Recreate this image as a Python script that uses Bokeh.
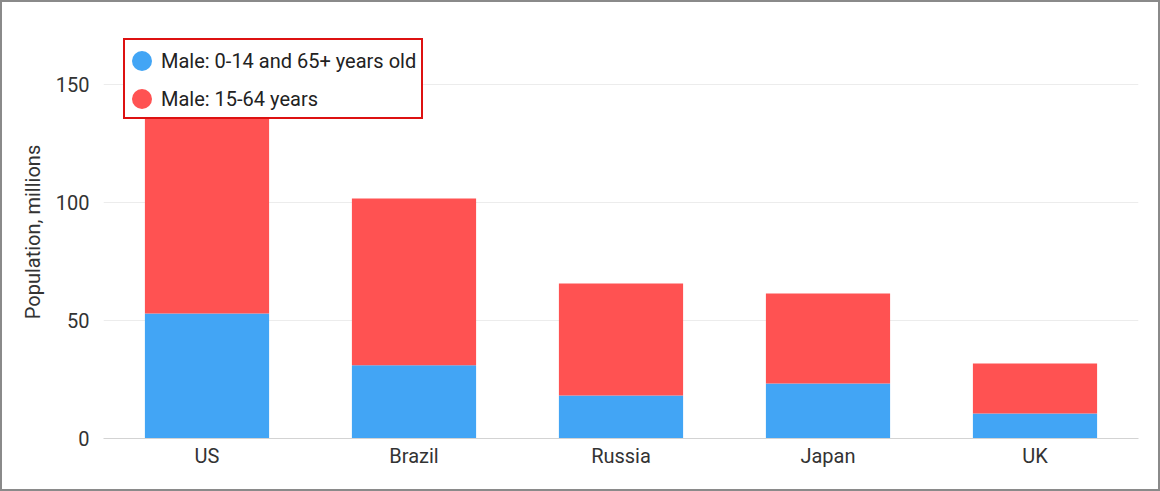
from bokeh.plotting import figure
from bokeh.models import ColumnDataSource, Legend, LegendItem
from bokeh.embed import file_html
from bokeh.resources import INLINE

countries = ["US", "Brazil", "Russia", "Japan", "UK"]
male_young_old = [53.0, 31.0, 18.2, 23.3, 10.6]
male_15_64 = [88.0, 70.7, 47.5, 38.1, 21.2]
series_names = ["Male: 0-14 and 65+ years old", "Male: 15-64 years"]
colors = ["#42A5F5", "#FF5252"]
y_ticks = [0, 50, 100, 150]

src = ColumnDataSource(dict(country=countries, young_old=male_young_old, middle=male_15_64))

p = figure(x_range=countries, y_range=(0, 175), width=1160, height=491,
           output_backend="svg", toolbar_location=None,
           min_border_left=101, min_border_right=24, min_border_top=23, min_border_bottom=55,
           styles={"border": "2px solid #8a8a8a"})

stack = p.vbar_stack(["young_old", "middle"], x="country", width=0.6, source=src,
                     color=colors, line_width=0)

p.outline_line_color = None
p.background_fill_color = "white"
p.border_fill_color = "white"

p.xgrid.grid_line_color = None
p.ygrid.grid_line_color = "#ececec"
p.ygrid.ticker = y_ticks
p.yaxis.ticker = y_ticks

font = "Roboto"
for ax in (p.xaxis[0], p.yaxis[0]):
    ax.major_label_text_font = font
    ax.major_label_text_font_size = "20px"
    ax.major_label_text_color = "#333333"
    ax.major_tick_line_color = None
    ax.minor_tick_line_color = None
    ax.major_tick_out = 0
    ax.major_tick_in = 0

p.yaxis.axis_line_color = None
p.yaxis.major_label_standoff = 14
p.yaxis.axis_label = "Population, millions"
p.yaxis.axis_label_text_font = font
p.yaxis.axis_label_text_font_size = "20px"
p.yaxis.axis_label_text_font_style = "normal"
p.yaxis.axis_label_text_color = "#333333"
p.yaxis.axis_label_standoff = 8

p.xaxis.axis_line_color = "#d3d3d3"
p.xaxis.axis_line_width = 1
p.xaxis.major_label_standoff = 5
p.x_range.range_padding = 0.0

# legend swatches: one off-screen point each (y is NaN), only used for the legend
nan = float("nan")
d1 = ColumnDataSource(dict(x=[countries[0]], y=[nan]))
d2 = ColumnDataSource(dict(x=[countries[0]], y=[nan]))
r1 = p.ellipse("x", "y", source=d1, width=20, height=20, width_units="screen", height_units="screen",
               fill_color=colors[0], line_color=None)
r2 = p.ellipse("x", "y", source=d2, width=20, height=20, width_units="screen", height_units="screen",
               fill_color=colors[1], line_color=None)

legend = Legend(items=[LegendItem(label=series_names[0], renderers=[r1]),
                       LegendItem(label=series_names[1], renderers=[r2])],
                location=(20, 319), orientation="vertical",
                glyph_width=25, glyph_height=25,
                padding=dict(left=4, right=5, top=8, bottom=6), spacing=13,
                label_standoff=7, label_width=248, label_height=25,
                label_text_font=font, label_text_font_size="20px", label_text_color="#222222",
                border_line_color="#dd1111", border_line_width=2, border_line_alpha=1.0,
                background_fill_color="white", background_fill_alpha=1.0,
                margin=0)
p.add_layout(legend, "center")

open("out.html", "w").write(file_html(p, INLINE))
